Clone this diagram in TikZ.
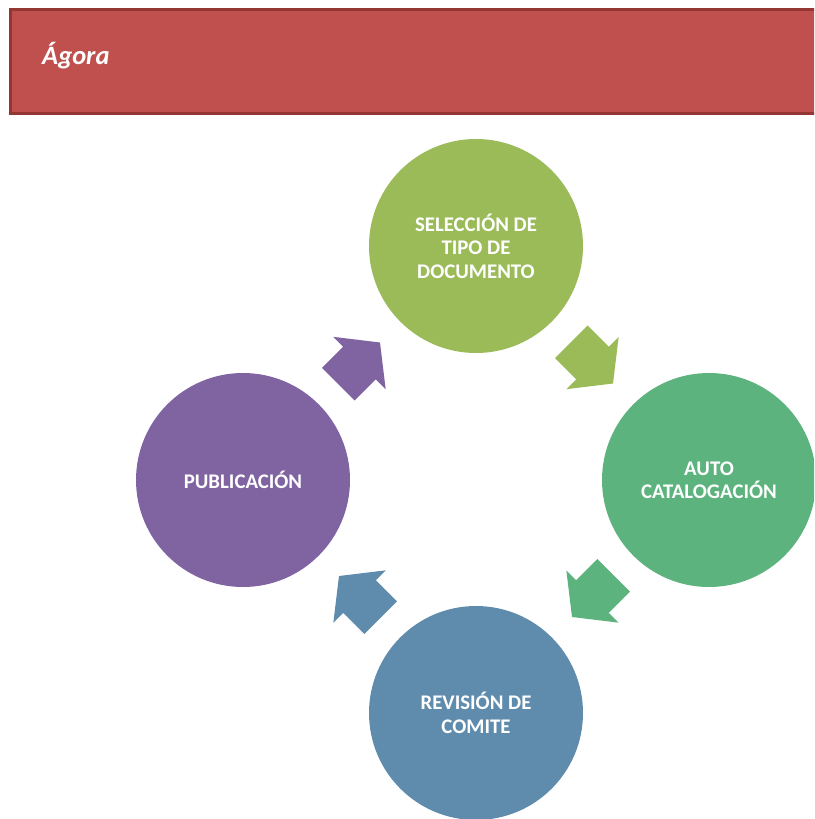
\documentclass[tikz,border=0pt]{standalone}
\usepackage{fontspec}
\setmainfont{Carlito}
\usetikzlibrary{calc}
\definecolor{hdrfill}{HTML}{C0504D}
\definecolor{hdrline}{HTML}{943634}
\definecolor{cgreen}{HTML}{9BBB59}
\definecolor{cteal}{HTML}{5DB37E}
\definecolor{cblue}{HTML}{5F8CAD}
\definecolor{cpurple}{HTML}{8064A2}
\tikzset{
  circ/.style={circle, minimum size=214pt, inner sep=0pt, align=center, text=white,
    font=\bfseries\fontsize{20.8}{23.5}\selectfont},
  blockarrow/.pic={\fill[pic actions] (-30,-23) -- (0,-23) -- (0,-37) -- (29,0) -- (0,37) -- (0,23) -- (-30,23) -- cycle;}
}
\begin{document}
\begin{tikzpicture}[x=1pt,y=-1pt]
\useasboundingbox (0,0) rectangle (814,819);
\clip (0,0) rectangle (814,819);
\draw[draw=hdrline, line width=3pt, fill=hdrfill] (10,9.5) rectangle (840,113.5);
\node[anchor=base west, inner sep=0pt, text=white, font=\bfseries\itshape\fontsize{26.5}{30}\selectfont] (title) at (42,64) {Ágora};
\node[circ, fill=cgreen] (sel) at (476,246) {SELECCIÓN DE\\TIPO DE\\DOCUMENTO};
\node[circ, fill=cteal] (auto) at (709,480) {AUTO\\CATALOGACIÓN};
\node[circ, fill=cblue] (rev) at (476,713) {REVISIÓN DE\\COMITE};
\node[circ, fill=cpurple] (pub) at (243,480) {PUBLICACIÓN};
\pic[fill=cgreen, rotate=-45] at ($(sel)!0.5!(auto)$) {blockarrow};
\pic[fill=cteal, rotate=-135] at ($(auto)!0.5!(rev)$) {blockarrow};
\pic[fill=cblue, rotate=135] at ($(rev)!0.5!(pub)$) {blockarrow};
\pic[fill=cpurple, rotate=45] at ($(pub)!0.5!(sel)$) {blockarrow};
\end{tikzpicture}
\end{document}
